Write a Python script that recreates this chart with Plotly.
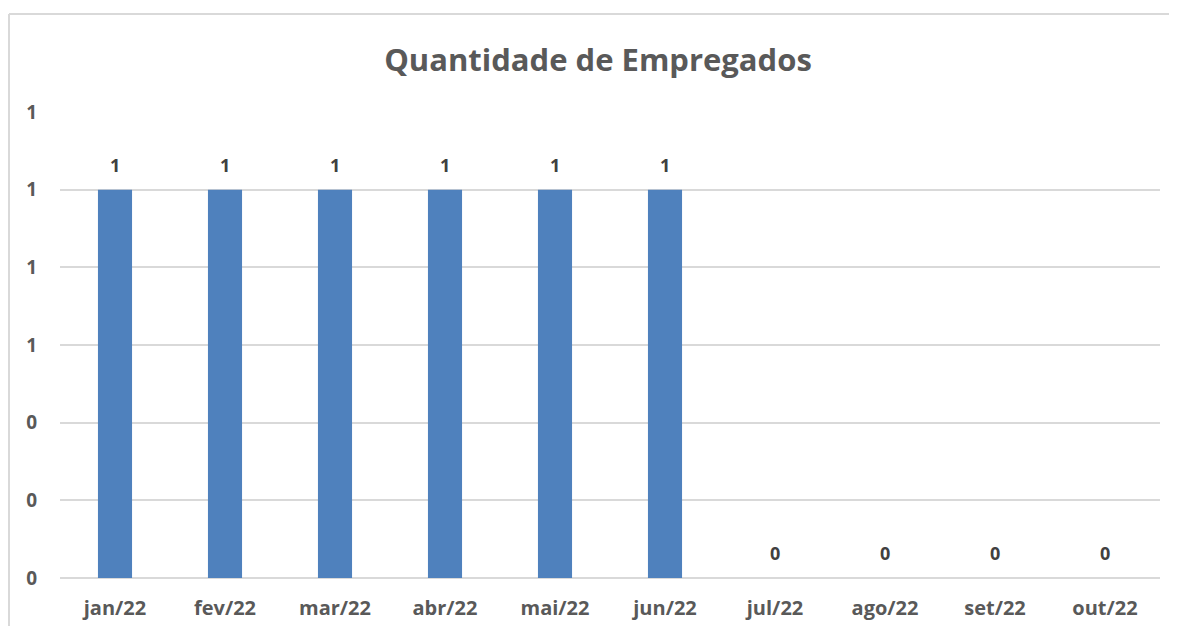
import plotly.graph_objects as go

categories = ["jan/22", "fev/22", "mar/22", "abr/22", "mai/22", "jun/22",
              "jul/22", "ago/22", "set/22", "out/22"]
values = [1, 1, 1, 1, 1, 1, 0, 0, 0, 0]
y_ticks = [0, 0.2, 0.4, 0.6, 0.8, 1.0, 1.2]

# page has an 8px body margin; positions below are in figure pixels
OFF = 8
W, H = 1177 - 2 * OFF, 634 - 2 * OFF
L, T = 60 - OFF, 112 - OFF
pw, ph = 1100, 466
R, B = W - L - pw, H - T - ph

def px(x):
    return (x - OFF - L) / pw

def py(y):
    return (T + ph - (y - OFF)) / ph

FONT = "Open Sans"
GRAY = "#595959"

fig = go.Figure(go.Bar(
    x=categories, y=values,
    marker=dict(color="#4f81bd", line=dict(width=0)),
    width=0.31,
    hoverinfo="x+y",
))

annotations = [
    dict(x=c, y=v, xref="x", yref="y", text=str(v), showarrow=False,
         yshift=25, yanchor="middle",
         font=dict(family=FONT, size=18, color="#404040", weight="bold"))
    for c, v in zip(categories, values)
]

shapes = [
    dict(type="line", xref="paper", yref="paper",
         x0=px(9), x1=px(1300), y0=py(14), y1=py(14),
         line=dict(color="#d9d9d9", width=2), layer="below"),
    dict(type="line", xref="paper", yref="paper",
         x0=px(9), x1=px(9), y0=py(14), y1=py(800),
         line=dict(color="#d9d9d9", width=2), layer="below"),
]

fig.update_layout(
    width=W, height=H,
    margin=dict(l=L, r=R, t=T, b=B),
    paper_bgcolor="white", plot_bgcolor="white",
    title=dict(text="<b>Quantidade de Empregados</b>",
               font=dict(family=FONT, size=31, color=GRAY),
               xref="paper", x=px(598), xanchor="center",
               yref="container", y=1 - (60 - OFF) / H, yanchor="middle"),
    showlegend=False,
    shapes=shapes,
    annotations=annotations,
    xaxis=dict(
        showgrid=False, showline=False, zeroline=False, automargin=False,
        tickfont=dict(family=FONT, size=20, color=GRAY, weight="bold"),
        ticks="", ticklabelstandoff=16,
    ),
    yaxis=dict(
        range=[0, 1.2], tickvals=y_ticks, tickformat=".0f", automargin=False,
        showgrid=True, gridcolor="#d9d9d9", gridwidth=2,
        zeroline=True, zerolinecolor="#d9d9d9", zerolinewidth=2,
        showline=False, ticks="",
        tickfont=dict(family=FONT, size=19, color=GRAY, weight="bold"),
        ticklabelstandoff=22,
    ),
)

fig.write_html("out.html")
